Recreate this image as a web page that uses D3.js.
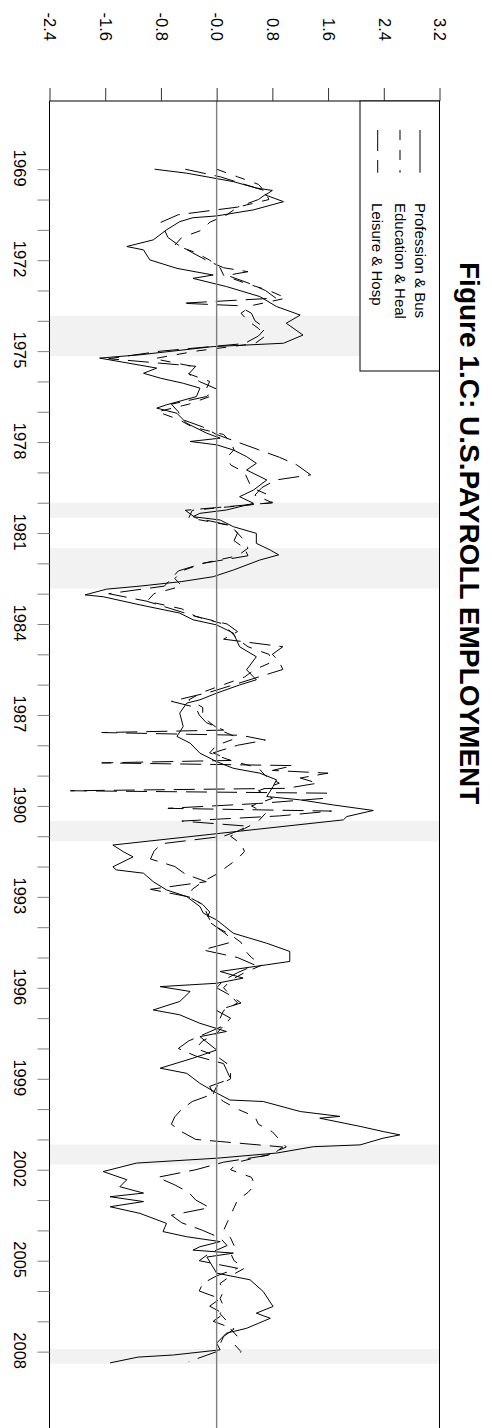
<!DOCTYPE html>
<html>
<head>
<meta charset="utf-8">
<script src="https://cdn.jsdelivr.net/npm/d3@7"></script>
<style>
  body { margin: 0; background: #fff; }
  svg { display: block; }
  text { font-family: "Liberation Sans", Arial, Helvetica, sans-serif; fill: #000; }
</style>
</head>
<body>
<svg id="chart" width="492" height="1428"></svg>
<script>
// ---- data -------------------------------------------------------------
const seriesNames = ["Profession & Bus", "Education & Heal", "Leisure & Hosp"];

// Professional & business services (decimal years / standardized growth)
const profDates = [
  1969.00,1969.13,1969.41,1969.62,1969.70,1969.85,1970.07,1970.34,1970.54,1970.60,
  1970.73,1971.00,1971.33,1971.55,1971.66,1971.99,1972.27,1972.41,1972.49,1972.60,
  1972.87,1973.20,1973.53,1973.81,1974.08,1974.47,1974.74,1974.85,1975.12,1975.23,
  1975.56,1975.73,1975.89,1976.06,1976.22,1976.50,1976.77,1976.88,1977.05,1977.38,
  1977.71,1977.87,1977.98,1978.09,1978.26,1978.48,1978.70,1978.92,1979.25,1979.58,
  1979.80,1980.02,1980.24,1980.35,1980.46,1980.57,1980.79,1981.01,1981.34,1981.56,
  1981.72,1981.89,1982.22,1982.44,1982.60,1982.75,1982.85,1983.04,1983.10,1983.37,
  1983.64,1983.86,1984.03,1984.30,1984.75,1985.08,1985.51,1985.84,1986.01,1986.28,
  1986.50,1986.61,1986.94,1987.38,1987.71,1987.93,1988.26,1988.54,1988.76,1988.92,
  1989.14,1989.36,1989.69,1989.80,1989.97,1990.15,1990.35,1990.46,1991.29,1991.51,
  1991.68,1992.01,1992.11,1992.22,1992.50,1992.77,1992.99,1993.32,1993.54,1993.76,
  1994.20,1994.53,1994.80,1995.13,1995.24,1995.46,1995.68,1995.85,1995.96,1996.12,
  1996.45,1996.73,1996.89,1997.17,1997.44,1997.61,1998.05,1998.32,1998.65,1998.82,
  1999.15,1999.47,1999.70,1999.75,2000.08,2000.24,2000.30,2000.57,2000.74,2000.85,
  2000.96,2001.18,2001.24,2001.45,2001.62,2001.78,2002.06,2002.33,2002.56,2002.77,
  2002.89,2003.05,2003.22,2003.44,2003.77,2004.04,2004.21,2004.37,2004.54,2004.65,
  2004.75,2004.88,2005.41,2005.63,2006.02,2006.51,2006.73,2006.90,2007.23,2007.39,
  2007.72,2007.94,2008.11,2008.18,2008.37
];
const profValues = [
  -0.89,-0.43,0.24,0.57,0.80,0.70,0.96,0.53,0.00,-0.34,
  -0.53,-0.72,-0.91,-1.29,-1.05,-0.96,-0.57,-0.24,-0.05,-0.34,
  0.14,0.62,0.86,1.20,1.00,1.24,0.96,-0.05,-1.10,-1.68,
  -0.86,-1.05,-0.81,-0.48,-0.24,-0.29,-0.72,-0.86,-0.57,-0.43,
  -0.14,0.05,-0.38,0.00,0.24,0.43,0.57,0.43,0.72,0.53,
  0.33,0.53,0.14,-0.24,-0.34,0.05,0.24,0.57,0.57,0.77,
  0.89,0.62,0.24,-0.05,-0.50,-1.10,-1.58,-1.89,-1.63,-1.10,
  -0.53,-0.34,0.00,0.24,0.33,0.57,0.43,0.57,0.33,0.00,
  -0.24,-0.43,-0.53,-0.48,-0.57,-0.38,-0.24,0.00,0.24,0.62,
  0.86,0.81,0.72,1.20,1.68,2.25,1.87,1.82,-1.49,-1.34,
  -1.20,-1.49,-1.44,-1.05,-0.91,-0.72,-0.43,-0.24,-0.19,0.00,
  0.24,0.72,1.05,1.05,0.72,0.05,0.38,0.00,-0.81,-0.38,
  -0.53,-0.91,-0.53,-0.24,0.14,-0.24,0.00,-0.34,-0.81,-0.43,
  -0.24,0.00,0.19,0.67,1.20,1.77,1.48,2.06,2.39,2.63,
  2.39,2.06,1.39,0.86,0.00,-1.15,-1.63,-1.29,-1.39,-1.05,
  -1.53,-1.05,-1.53,-1.10,-0.72,-0.77,-0.43,0.05,-0.24,-0.34,
  0.24,-0.14,0.00,0.48,0.67,0.81,0.57,0.77,0.43,0.14,
  0.00,0.05,-0.62,-1.13,-1.53
];

// Education & health services, quarterly from 1969 Q1
const eduStartYear = 1969;
const eduValues = [
  0.00,0.30,0.60,0.70,   0.75,0.30,0.15,-0.10,  -0.20,-0.50,-0.60,-0.30,
  -0.10,0.05,0.10,0.40,  0.75,1.00,0.50,0.35,   0.45,0.60,0.70,0.55,
  -0.30,-0.90,-0.35,-0.40, -0.10,-0.15,-0.10,-0.40, -0.85,-0.55,-0.35,0.10,
  0.20,0.25,0.15,0.20,   0.40,0.45,0.50,0.75,   0.80,-0.35,-0.40,0.20,
  0.30,0.40,0.45,0.30,   -0.20,-0.50,-0.60,-0.50, -0.90,-1.00,-0.50,-0.30,
  0.10,0.20,0.30,0.45,   0.75,0.80,0.55,0.40,   0.10,-0.20,-0.40,-0.20,
  -0.20,-0.10,0.05,0.30, 0.00,-0.10,0.20,0.60,  0.70,0.90,0.60,0.80,
  0.50,0.70,0.60,0.40,   0.20,0.35,0.40,0.30,   0.15,0.00,-0.20,-0.35,
  -0.40,-0.20,-0.15,-0.10, 0.00,0.20,0.35,0.40, 0.50,0.65,0.40,0.20,
  0.10,0.20,0.30,0.10,   0.05,0.10,0.00,-0.20,  -0.30,0.00,0.15,0.20,
  0.20,0.00,-0.05,0.10,  0.30,0.55,0.60,0.80,   0.90,1.00,0.75,0.30,
  0.20,0.50,0.55,0.45,   0.30,0.25,0.20,0.15,   0.10,0.20,0.25,0.20,
  0.25,0.40,0.20,0.05,   0.10,0.05,0.10,0.05,   0.15,0.20,0.30,0.25,
  0.35,0.30
];

// Leisure & hospitality (decimal years / standardized growth)
const leisDates = [
  1969.00,1969.25,1969.50,1969.75,1970.00,1970.25,1970.50,1970.75,1971.00,1971.25,
  1971.50,1971.75,1972.00,1972.25,1972.38,1972.50,1972.75,1973.00,1973.25,1973.42,
  1973.50,1973.75,1974.00,1974.25,1974.50,1974.75,1975.00,1975.25,1975.50,1975.75,
  1976.00,1976.25,1976.50,1976.75,1977.00,1977.25,1977.50,1977.75,1978.00,1978.25,
  1978.50,1978.75,1979.08,1979.25,1979.50,1979.75,1980.00,1980.25,1980.50,1980.75,
  1981.00,1981.25,1981.50,1981.75,1982.00,1982.25,1982.50,1982.75,1983.00,1983.25,
  1983.50,1983.75,1984.00,1984.25,1984.50,1984.75,1985.00,1985.25,1985.50,1985.75,
  1986.00,1986.25,1986.55,1986.75,1987.00,1987.25,1987.50,1987.58,1987.67,1987.83,
  1988.00,1988.25,1988.50,1988.58,1988.67,1988.83,1988.92,1989.08,1989.25,1989.42,
  1989.50,1989.58,1989.75,1989.92,1990.08,1990.17,1990.33,1990.50,1990.67,1990.83,
  1991.00,1991.25,1991.50,1991.75,1992.00,1992.25,1992.50,1992.75,1993.00,1993.25,
  1993.50,1993.75,1994.00,1994.25,1994.50,1994.75,1995.00,1995.25,1995.50,1995.75,
  1996.00,1996.25,1996.50,1996.75,1997.00,1997.25,1997.50,1997.75,1998.00,1998.25,
  1998.50,1998.75,1999.00,1999.25,1999.50,1999.75,2000.00,2000.25,2000.50,2000.75,
  2001.00,2001.25,2001.50,2001.75,2002.00,2002.25,2002.50,2002.75,2003.00,2003.25,
  2003.50,2003.75,2004.00,2004.25,2004.50,2004.75,2005.00,2005.25,2005.50,2005.75,
  2006.00,2006.25,2006.50,2006.75,2007.00,2007.25,2007.50,2007.75,2008.00,2008.33
];
const leisValues = [
  -0.45,0.05,0.40,0.75,0.60,0.30,-0.55,-0.80,-0.75,-0.70,
  -0.55,-0.35,-0.15,0.10,0.45,0.15,0.45,0.70,0.85,-0.50,
  0.30,0.50,0.55,0.70,0.60,0.40,-0.80,-1.55,-0.30,-0.40,
  -0.25,0.00,-0.15,-0.65,-0.55,-0.50,-0.20,0.00,0.30,0.60,
  0.90,1.15,1.35,0.85,0.65,0.55,0.80,-0.45,-0.30,0.20,
  0.30,0.25,0.40,0.45,-0.20,-0.55,-0.65,-0.75,-1.55,-1.00,
  -0.65,-0.30,0.15,0.30,0.10,0.95,0.80,0.90,0.95,0.60,
  0.25,-0.10,-0.65,-0.30,-0.25,-0.15,0.10,-1.65,0.35,0.70,
  0.30,-0.05,0.20,-1.65,1.10,0.80,1.60,1.20,1.45,1.00,
  -2.10,1.60,1.55,0.60,-0.70,1.65,0.90,-0.50,0.45,0.30,
  0.10,-0.80,-0.90,-0.95,-0.60,-0.45,-0.15,-0.95,-0.40,-0.20,
  -0.10,-0.15,0.00,0.15,0.20,-0.20,0.30,0.55,0.30,0.10,
  0.00,0.20,0.35,0.00,0.20,0.10,-0.15,-0.40,-0.55,-0.30,
  0.10,0.15,0.20,-0.10,-0.05,-0.35,-0.50,-0.60,-0.65,-0.50,
  -0.30,0.95,0.80,0.10,-0.30,-0.85,-0.60,-0.40,-0.30,-0.10,
  -0.65,-0.50,-0.20,0.05,0.15,-0.10,-0.25,0.30,0.00,-0.20,
  -0.25,0.05,-0.10,0.10,-0.05,0.25,0.10,0.05,0.00,-0.40
];

// NBER recessions (decimal years)
const recessionStarts = [1973.833, 1980.000, 1981.500, 1990.500, 2001.167, 2007.917];
const recessionEnds   = [1975.167, 1980.500, 1982.833, 1991.167, 2001.833, 2008.400];

const valueTicks = [-2.4, -1.6, -0.8, 0, 0.8, 1.6, 2.4, 3.2];
const valueTickLabels = ["-2.4", "-1.6", "-0.8", "-0.0", "0.8", "1.6", "2.4", "3.2"];
const yearTicks = d3.range(1969, 2009);
const titleText = "Figure 1.C: U.S.PAYROLL EMPLOYMENT";

// ---- layout -----------------------------------------------------------
const plot = { left: 49.5, right: 439.5, top: 101, bottom: 1432 };
const svg = d3.select("#chart");

// values run left -> right, time runs top -> bottom
const x = d3.scaleLinear().domain([-2.4, 3.2]).range([plot.left, plot.right]);
const y = d3.scaleLinear().domain([1966.75, 2010.65]).range([plot.top, plot.bottom]);

svg.append("defs").append("clipPath").attr("id", "plotClip")
  .append("rect")
  .attr("x", plot.left).attr("y", plot.top)
  .attr("width", plot.right - plot.left).attr("height", plot.bottom - plot.top);

// recession shading
svg.append("g").selectAll("rect")
  .data(recessionStarts.map((s, i) => [s, recessionEnds[i]]))
  .join("rect")
  .attr("x", plot.left)
  .attr("width", plot.right - plot.left)
  .attr("y", d => y(d[0]))
  .attr("height", d => y(d[1]) - y(d[0]))
  .attr("fill", "#f2f2f2");

// series lines
const line = d3.line().x(d => x(d[1])).y(d => y(d[0]));
const series = [
  { dash: null,    pts: profDates.map((t, i) => [t, profValues[i]]) },
  { dash: "10,10", pts: eduValues.map((v, i) => [eduStartYear + i / 4, v]) },
  { dash: "21,9",  pts: leisDates.map((t, i) => [t, leisValues[i]]) }
];
const lines = svg.append("g").attr("clip-path", "url(#plotClip)");
series.forEach(s => {
  lines.append("path")
    .attr("d", line(s.pts))
    .attr("fill", "none")
    .attr("stroke", "#000")
    .attr("stroke-width", 1)
    .attr("stroke-dasharray", s.dash);
});

// zero reference line
svg.append("line")
  .attr("x1", x(0)).attr("x2", x(0))
  .attr("y1", plot.top).attr("y2", plot.bottom)
  .attr("stroke", "#808080").attr("stroke-width", 1.4);

// frame
svg.append("rect")
  .attr("x", plot.left).attr("y", plot.top)
  .attr("width", plot.right - plot.left).attr("height", plot.bottom - plot.top)
  .attr("fill", "none").attr("stroke", "#000").attr("stroke-width", 1);

// value axis along the top
const valueAxis = svg.append("g")
  .attr("transform", `translate(0,${plot.top})`)
  .call(d3.axisTop(x).tickValues(valueTicks).tickSize(13)
    .tickFormat((d, i) => valueTickLabels[i]));
valueAxis.select(".domain").remove();
valueAxis.selectAll(".tick line").attr("stroke", "#333");
valueAxis.selectAll(".tick text")
  .attr("y", null).attr("x", null)
  .attr("dy", "0.35em")
  .attr("text-anchor", "end")
  .attr("transform", `translate(0,${41 - plot.top}) rotate(90)`)
  .style("font-size", "16.5px");

// time axis along the left
const timeAxis = svg.append("g")
  .attr("transform", `translate(${plot.left},0)`)
  .call(d3.axisLeft(y).tickValues(yearTicks).tickSize(12)
    .tickFormat(d => (d - 1969) % 3 === 0 ? String(d) : ""));
timeAxis.select(".domain").remove();
timeAxis.selectAll(".tick line").attr("stroke", "#808080");
timeAxis.selectAll(".tick text")
  .attr("x", null).attr("y", null)
  .attr("dy", "0.35em")
  .attr("text-anchor", "middle")
  .attr("transform", `translate(${19.5 - plot.left},-1.5) rotate(90)`)
  .style("font-size", "16.5px");

// legend
const legend = svg.append("g");
legend.append("rect")
  .attr("x", 360).attr("y", plot.top)
  .attr("width", plot.right - 360).attr("height", 371 - plot.top)
  .attr("fill", "#fff").attr("stroke", "#000").attr("stroke-width", 1);
const legendX = [420, 400, 377.7];
seriesNames.forEach((name, i) => {
  legend.append("line")
    .attr("x1", legendX[i]).attr("x2", legendX[i])
    .attr("y1", 130).attr("y2", 172.7)
    .attr("stroke", "#000").attr("stroke-width", 1)
    .attr("stroke-dasharray", series[i].dash);
  legend.append("text")
    .attr("transform", `translate(${legendX[i]},203) rotate(90)`)
    .attr("dy", "0.35em")
    .style("font-size", "15px")
    .text(name);
});

// title
svg.append("text")
  .attr("transform", "translate(470,262) rotate(90)")
  .attr("dy", "0.35em")
  .style("font-size", "28px")
  .style("font-weight", "bold")
  .text(titleText);
</script>
</body>
</html>
